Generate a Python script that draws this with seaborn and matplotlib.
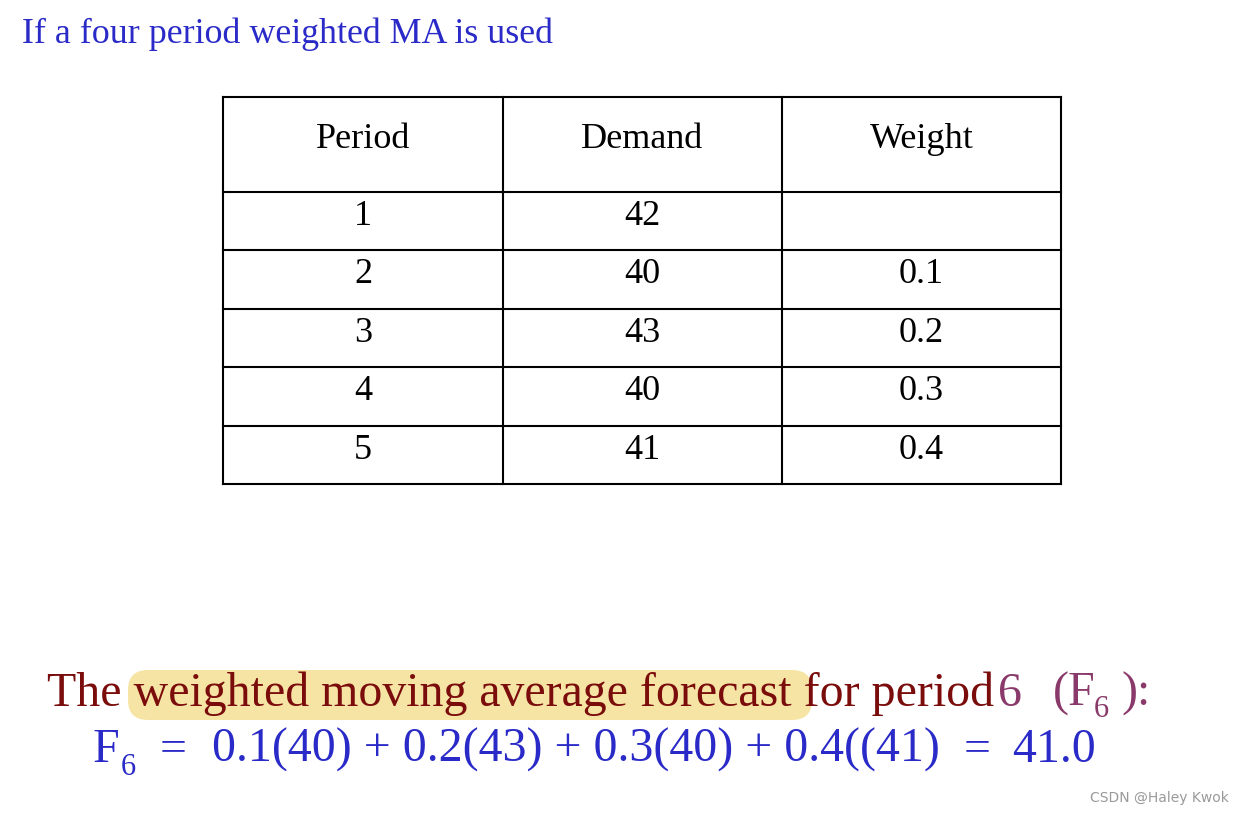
import matplotlib
matplotlib.use("Agg")
import matplotlib.pyplot as plt
import seaborn as sns
from matplotlib.patches import FancyBboxPatch

# ---- data ----
headers = ["Period", "Demand", "Weight"]
periods = [1, 2, 3, 4, 5]
demand = [42, 40, 43, 40, 41]
weights = [None, 0.1, 0.2, 0.3, 0.4]

sns.set_theme(style="white")
plt.rcParams['font.family'] = ['Liberation Serif', 'DejaVu Serif']

W, H = 1244, 814
fig = plt.figure(figsize=(W / 100, H / 100), dpi=100)
ax = fig.add_axes([0, 0, 1, 1])
ax.set_xlim(0, W)
ax.set_ylim(H, 0)
ax.axis("off")
fig.patch.set_facecolor("white")

BLUE = "#2a2ac8"
DARKRED = "#7a0c0c"
PURPLE = "#8a3a6a"

# title
ax.text(22, 43, "If a four period weighted MA is used", fontsize=25.8, color=BLUE,
        ha="left", va="baseline")

# table grid
xs = [223, 503, 782, 1061]
ys = [97, 192, 250, 309, 367, 426, 484]
lw = 1.5
for x in xs:
    ax.plot([x, x], [ys[0], ys[-1]], color="black", lw=lw, solid_capstyle="projecting")
for y in ys:
    ax.plot([xs[0], xs[-1]], [y, y], color="black", lw=lw, solid_capstyle="projecting")

cx = [(xs[i] + xs[i + 1]) / 2 for i in range(3)]
for c, h in zip(cx, headers):
    ax.text(c, 148, h, fontsize=26, ha="center", va="baseline", color="black")

for i, (p, d, w) in enumerate(zip(periods, demand, weights)):
    base = ys[i + 1] + 33
    ax.text(cx[0], base, str(p), fontsize=26, ha="center", va="baseline", color="black")
    ax.text(cx[1], base, str(d), fontsize=26, ha="center", va="baseline", color="black")
    if w is not None:
        ax.text(cx[2], base, f"{w:.1f}", fontsize=26, ha="center", va="baseline", color="black")

# highlight brush
hl = FancyBboxPatch((134, 676), 672, 38, boxstyle="round,pad=6,rounding_size=20",
                    facecolor="#f5e29a", edgecolor="none", alpha=0.9, zorder=0)
ax.add_patch(hl)

FS = 34.5
SUB = 22
# line 1
ax.text(47, 706, "The weighted moving average forecast for period", fontsize=FS,
        color=DARKRED, ha="left", va="baseline", zorder=2)
ax.text(998, 706, "6", fontsize=FS, color=PURPLE, ha="left", va="baseline")
ax.text(1053, 706, "(F", fontsize=FS, color=PURPLE, ha="left", va="baseline")
ax.text(1094, 717, "6", fontsize=SUB, color=PURPLE, ha="left", va="baseline")
ax.text(1121, 706, "):", fontsize=FS, color=PURPLE, ha="left", va="baseline")

# line 2
n = len(periods)
terms = [f"{weights[i]:.1f}({demand[i]})" for i in range(1, n)]
terms[-1] = terms[-1].replace("(", "((", 1)
forecast = sum(weights[i] * demand[i] for i in range(1, n))
ax.text(93, 762, "F", fontsize=FS, color=BLUE, ha="left", va="baseline")
ax.text(121, 775, "6", fontsize=SUB, color=BLUE, ha="left", va="baseline")
ax.text(160, 762, "=", fontsize=FS, color=BLUE, ha="left", va="baseline")
ax.text(212, 762, " + ".join(terms), fontsize=FS, color=BLUE, ha="left", va="baseline")
ax.text(964, 762, "=", fontsize=FS, color=BLUE, ha="left", va="baseline")
ax.text(1096, 762, f"{forecast:.1f}", fontsize=FS, color=BLUE, ha="right", va="baseline")

# watermark
ax.text(1229, 802, "CSDN @Haley Kwok", fontsize=10, color="#9a9a9a", ha="right",
        va="baseline", family=["DejaVu Sans"])

fig.savefig("out.png", dpi=100, facecolor="white")
